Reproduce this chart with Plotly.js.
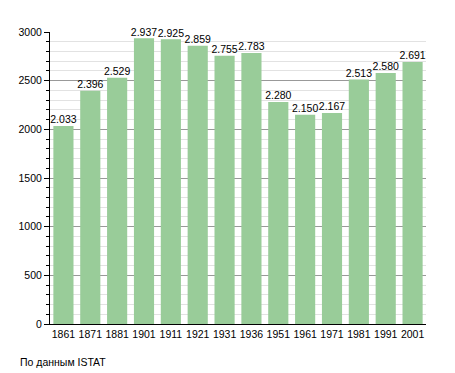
<!DOCTYPE html>
<html><head><meta charset="utf-8">
<script src="https://cdn.plot.ly/plotly-3.0.1.min.js"></script>
<style>body{margin:0;padding:0;background:#fff}#c{width:455px;height:373px}</style>
</head><body><div id="c"></div>
<script>
const years = ['1861','1871','1881','1901','1911','1921','1931','1936','1951','1961','1971','1981','1991','2001'];
const population = [2033,2396,2529,2937,2925,2859,2755,2783,2280,2150,2167,2513,2580,2691];
const labels = population.map(v => String(v).replace(/\B(?=(\d{3})+(?!\d))/g, '.'));
const yTicks = [0,500,1000,1500,2000,2500,3000];
const source = 'По данным ISTAT';

const bars = {
  type:'bar', x:years, y:population,
  marker:{color:'#99cc99', line:{width:0}},
  hoverinfo:'none'
};
const texts = {
  type:'scatter', mode:'text', x:years, y:population, text:labels,
  textposition:'top center', cliponaxis:false,
  textfont:{family:'Liberation Sans, Arial, sans-serif', size:10.5, color:'#000'},
  hoverinfo:'none'
};
const layout = {
  width:455, height:373,
  margin:{l:50, r:29, t:32, b:49},
  paper_bgcolor:'#fff', plot_bgcolor:'#fff',
  bargap:0.25, showlegend:false,
  font:{family:'Liberation Sans, Arial, sans-serif', size:10.5, color:'#000'},
  xaxis:{type:'category', range:[-0.5, years.length-0.5], tickangle:0, showline:true, linecolor:'#000', linewidth:1,
    ticks:'', showgrid:false, tickfont:{size:10.5}, fixedrange:true},
  yaxis:{range:[0,3000], tickvals:yTicks, ticktext:yTicks.map(String), showline:true, linecolor:'#000', linewidth:1,
    ticks:'outside', ticklen:5, tickcolor:'#000', showgrid:true, gridcolor:'#999', gridwidth:1, zeroline:false,
    minor:{dtick:100, tick0:0, showgrid:true, gridcolor:'#e2e2e2', ticks:'outside', ticklen:3, tickcolor:'#000'},
    tickfont:{size:10.5}, fixedrange:true},
  annotations:[{text:source, xref:'paper', yref:'paper', x:-0.085, y:-0.13, xanchor:'left', yanchor:'middle',
    showarrow:false, font:{size:10.5, color:'#000'}}]
};
Plotly.newPlot('c',[bars, texts],layout,{staticPlot:true, displayModeBar:false});
</script></body></html>
